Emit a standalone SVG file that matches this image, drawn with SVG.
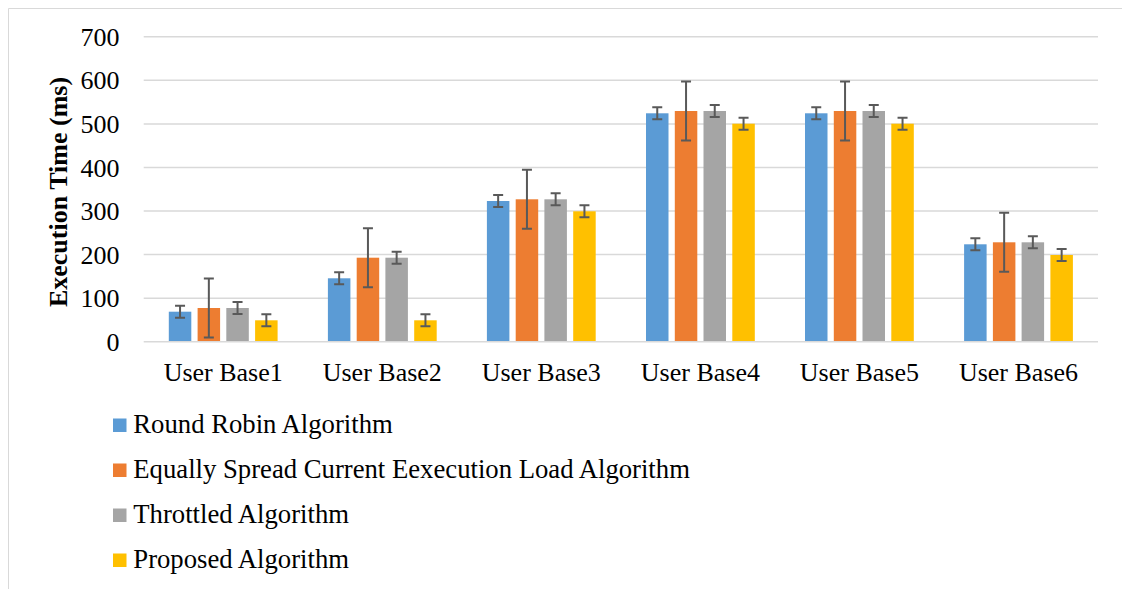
<svg xmlns="http://www.w3.org/2000/svg" width="1122" height="589" viewBox="0 0 1122 589">
<style>
text{font-family:"Liberation Serif","Times New Roman",serif;fill:#000}
.tick{font-size:26px;text-anchor:end}
.cat{font-size:26px;text-anchor:middle}
.leg{font-size:26.7px}
.title{font-size:26px;font-weight:bold;text-anchor:middle}
.grid{stroke:#D9D9D9;stroke-width:1.5;fill:none}
.s1{fill:#5B9BD5}.s2{fill:#ED7D31}.s3{fill:#A5A5A5}.s4{fill:#FFC000}
.err{stroke:#595959;stroke-width:2;fill:none}
</style>
<rect width="1122" height="589" fill="#fff"/>
<path d="M8.5 600 V8.5 H1130" stroke="#D9D9D9" stroke-width="1" fill="none"/>
<g id="gridlines">
<path class="grid" d="M143.7 36.7H1098M143.7 80.3H1098M143.7 123.9H1098M143.7 167.5H1098M143.7 211.1H1098M143.7 254.6H1098M143.7 298.2H1098"/>
</g>
<g id="y-axis">
<text class="tick" x="119.5" y="45.7">700</text>
<text class="tick" x="119.5" y="89.3">600</text>
<text class="tick" x="119.5" y="132.9">500</text>
<text class="tick" x="119.5" y="176.5">400</text>
<text class="tick" x="119.5" y="220.1">300</text>
<text class="tick" x="119.5" y="263.6">200</text>
<text class="tick" x="119.5" y="307.2">100</text>
<text class="tick" x="119.5" y="350.7">0</text>
<text class="title" transform="translate(67,192) rotate(-90)">Execution Time (ms)</text>
</g>
<g id="ub1">
<rect class="s1" x="168.8" y="311.7" width="22.5" height="30"/>
<rect class="s2" x="197.6" y="308" width="22.5" height="33.7"/>
<rect class="s3" x="226.3" y="308" width="22.5" height="33.7"/>
<rect class="s4" x="255.1" y="320.3" width="22.5" height="21.4"/>
<path class="err" d="M175.05 305.7H185.05M180.05 305.7V317.7M175.05 317.7H185.05M203.85 278.5H213.85M208.85 278.5V337.5M203.85 337.5H213.85M232.55 302H242.55M237.55 302V314M232.55 314H242.55M261.35 314.3H271.35M266.35 314.3V326.3M261.35 326.3H271.35"/>
<text class="cat" x="223.2" y="381">User Base1</text>
</g>
<g id="ub2">
<rect class="s1" x="327.9" y="278.3" width="22.5" height="63.4"/>
<rect class="s2" x="356.7" y="257.7" width="22.5" height="84"/>
<rect class="s3" x="385.4" y="257.7" width="22.5" height="84"/>
<rect class="s4" x="414.2" y="320.3" width="22.5" height="21.4"/>
<path class="err" d="M334.15 272.3H344.15M339.15 272.3V284.3M334.15 284.3H344.15M362.95 228.2H372.95M367.95 228.2V287.2M362.95 287.2H372.95M391.65 251.7H401.65M396.65 251.7V263.7M391.65 263.7H401.65M420.45 314.3H430.45M425.45 314.3V326.3M420.45 326.3H430.45"/>
<text class="cat" x="382.3" y="381">User Base2</text>
</g>
<g id="ub3">
<rect class="s1" x="486.9" y="201" width="22.5" height="140.7"/>
<rect class="s2" x="515.7" y="199.3" width="22.5" height="142.4"/>
<rect class="s3" x="544.4" y="199.3" width="22.5" height="142.4"/>
<rect class="s4" x="573.2" y="211.3" width="22.5" height="130.4"/>
<path class="err" d="M493.15 195H503.15M498.15 195V207M493.15 207H503.15M521.95 169.8H531.95M526.95 169.8V228.8M521.95 228.8H531.95M550.65 193.3H560.65M555.65 193.3V205.3M550.65 205.3H560.65M579.45 205.3H589.45M584.45 205.3V217.3M579.45 217.3H589.45"/>
<text class="cat" x="541.3" y="381">User Base3</text>
</g>
<g id="ub4">
<rect class="s1" x="646" y="113.3" width="22.5" height="228.4"/>
<rect class="s2" x="674.8" y="111" width="22.5" height="230.7"/>
<rect class="s3" x="703.5" y="111" width="22.5" height="230.7"/>
<rect class="s4" x="732.3" y="123.7" width="22.5" height="218"/>
<path class="err" d="M652.25 107.3H662.25M657.25 107.3V119.3M652.25 119.3H662.25M681.05 81.5H691.05M686.05 81.5V140.5M681.05 140.5H691.05M709.75 105H719.75M714.75 105V117M709.75 117H719.75M738.55 117.7H748.55M743.55 117.7V129.7M738.55 129.7H748.55"/>
<text class="cat" x="700.4" y="381">User Base4</text>
</g>
<g id="ub5">
<rect class="s1" x="805" y="113.3" width="22.5" height="228.4"/>
<rect class="s2" x="833.8" y="111" width="22.5" height="230.7"/>
<rect class="s3" x="862.5" y="111" width="22.5" height="230.7"/>
<rect class="s4" x="891.3" y="123.7" width="22.5" height="218"/>
<path class="err" d="M811.25 107.3H821.25M816.25 107.3V119.3M811.25 119.3H821.25M840.05 81.5H850.05M845.05 81.5V140.5M840.05 140.5H850.05M868.75 105H878.75M873.75 105V117M868.75 117H878.75M897.55 117.7H907.55M902.55 117.7V129.7M897.55 129.7H907.55"/>
<text class="cat" x="859.4" y="381">User Base5</text>
</g>
<g id="ub6">
<rect class="s1" x="964.1" y="244.3" width="22.5" height="97.4"/>
<rect class="s2" x="992.9" y="242.3" width="22.5" height="99.4"/>
<rect class="s3" x="1021.6" y="242.3" width="22.5" height="99.4"/>
<rect class="s4" x="1050.4" y="255" width="22.5" height="86.7"/>
<path class="err" d="M970.35 238.3H980.35M975.35 238.3V250.3M970.35 250.3H980.35M999.15 212.8H1009.15M1004.15 212.8V271.8M999.15 271.8H1009.15M1027.85 236.3H1037.85M1032.85 236.3V248.3M1027.85 248.3H1037.85M1056.65 249H1066.65M1061.65 249V261M1056.65 261H1066.65"/>
<text class="cat" x="1018.5" y="381">User Base6</text>
</g>
<g id="x-axis">
<path class="grid" d="M143.7 341.7H1098"/>
</g>
<g id="legend">
<rect class="s1" x="113" y="418.5" width="13.5" height="13.5"/>
<text class="leg" x="133.3" y="432.7">Round Robin Algorithm</text>
<rect class="s2" x="113" y="463.5" width="13.5" height="13.5"/>
<text class="leg" x="133.3" y="477.7">Equally Spread Current Eexecution Load Algorithm</text>
<rect class="s3" x="113" y="508.5" width="13.5" height="13.5"/>
<text class="leg" x="133.3" y="522.7">Throttled Algorithm</text>
<rect class="s4" x="113" y="553.5" width="13.5" height="13.5"/>
<text class="leg" x="133.3" y="567.7">Proposed Algorithm</text>
</g>
</svg>
